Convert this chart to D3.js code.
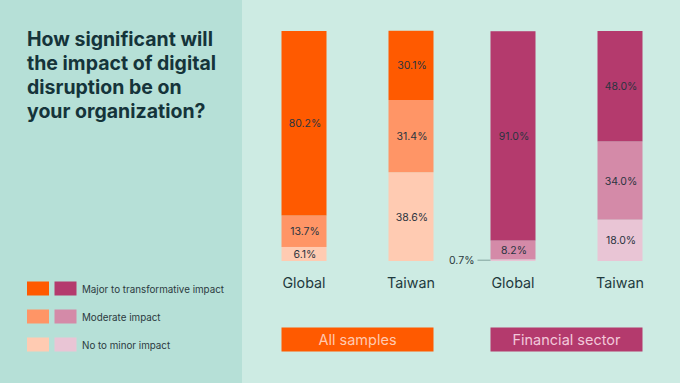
<!DOCTYPE html>
<html><head><meta charset="utf-8">
<script src="https://cdn.jsdelivr.net/npm/d3@7"></script>
<style>body{margin:0;padding:0;overflow:hidden}svg{display:block}</style>
</head><body>
<svg id="c" width="680" height="383"></svg>
<script>
const titleLines = ["How significant will","the impact of digital","disruption be on","your organization?"];
const bars = ["All|Global","All|Taiwan","Fin|Global","Fin|Taiwan"];
const barLabels = ["Global","Taiwan","Global","Taiwan"];
const groups = ["All samples","Financial sector"];
const seriesNames = ["Major to transformative impact","Moderate impact","No to minor impact"];
const major = [80.2, 30.1, 91.0, 48.0];
const moderate = [13.7, 31.4, 8.2, 34.0];
const minor = [6.1, 38.6, 0.7, 18.0];
const orangeColors = ["#ff5a00","#ff9566","#ffcbb2"];
const magentaColors = ["#b43a6d","#d48aa8","#e9c5d5"];

const svg = d3.select("#c");
const font = "Inter, 'Noto Sans', sans-serif";
svg.append("rect").attr("x",0).attr("y",0).attr("width",680).attr("height",383).attr("fill","#cdebe3");
svg.append("rect").attr("x",0).attr("y",0).attr("width",242).attr("height",383).attr("fill","#b6e0d7");

// title
const t = svg.append("text").attr("font-family",font).attr("font-weight",700).attr("font-size",19.5).attr("fill","#15343a");
titleLines.forEach((l,i)=>t.append("tspan").attr("x",27).attr("y",46+i*24).text(l));

const xPos = {"All|Global":304,"All|Taiwan":411,"Fin|Global":513,"Fin|Taiwan":620};
const bw = 45;
const y = d3.scaleLinear().domain([0,100]).range([261,31]);

const data = bars.map((b,i)=>({key:b,label:barLabels[i],vals:[major[i],moderate[i],minor[i]]}));
const stack = d3.stack().keys([2,1,0]).value((d,k)=>d.vals[k]);
const stacked = stack(data);

stacked.forEach(layer=>{
  const k = layer.key;
  layer.forEach((seg,i)=>{
    const d = data[i];
    const cols = d.key.startsWith("All") ? orangeColors : magentaColors;
    const cx = xPos[d.key];
    const y0 = y(seg[0]), y1 = y(seg[1]);
    svg.append("rect").attr("x",cx-bw/2).attr("y",y1).attr("width",bw).attr("height",y0-y1).attr("fill",cols[k]);
    const v = d.vals[k];
    const txt = v.toFixed(1)+"%";
    if (v < 2) {
      svg.append("line").attr("x1",cx-bw/2-13).attr("x2",cx-bw/2).attr("y1",(y0+y1)/2).attr("y2",(y0+y1)/2).attr("stroke","#6f8f8c").attr("stroke-width",0.8);
      svg.append("text").attr("x",cx-bw/2-16).attr("y",(y0+y1)/2+4).attr("text-anchor","end")
        .attr("font-family",font).attr("font-size",10.5).attr("fill","#2b3a40").text(txt);
    } else {
      svg.append("text").attr("x",cx+1).attr("y",(y0+y1)/2+4).attr("text-anchor","middle")
        .attr("font-family",font).attr("font-size",10.5).attr("fill","#2b3440").text(txt);
    }
  });
});

// x labels
data.forEach(d=>{
  svg.append("text").attr("x",xPos[d.key]).attr("y",288).attr("text-anchor","middle")
    .attr("font-family",font).attr("font-size",14.3).attr("fill","#1f3a3e").text(d.label);
});

// group boxes
const groupBoxes = [
  {name:groups[0], x0:xPos["All|Global"]-bw/2, x1:xPos["All|Taiwan"]+bw/2, fill:orangeColors[0], tc:"#ffc9b0"},
  {name:groups[1], x0:xPos["Fin|Global"]-bw/2, x1:xPos["Fin|Taiwan"]+bw/2, fill:magentaColors[0], tc:"#f2c8da"}
];
groupBoxes.forEach(g=>{
  svg.append("rect").attr("x",g.x0).attr("y",327.5).attr("width",g.x1-g.x0).attr("height",24).attr("fill",g.fill);
  svg.append("text").attr("x",(g.x0+g.x1)/2).attr("y",345).attr("text-anchor","middle")
    .attr("font-family",font).attr("font-size",14.5).attr("fill",g.tc).text(g.name);
});

// legend
seriesNames.forEach((s,i)=>{
  const yy = 281.5 + i*28;
  svg.append("rect").attr("x",27).attr("y",yy).attr("width",22).attr("height",14).attr("fill",orangeColors[i]);
  svg.append("rect").attr("x",54.5).attr("y",yy).attr("width",22).attr("height",14).attr("fill",magentaColors[i]);
  svg.append("text").attr("x",82).attr("y",yy+11).attr("font-family",font).attr("font-size",9.8).attr("fill","#2b3a40").text(s);
});
</script>
</body></html>
